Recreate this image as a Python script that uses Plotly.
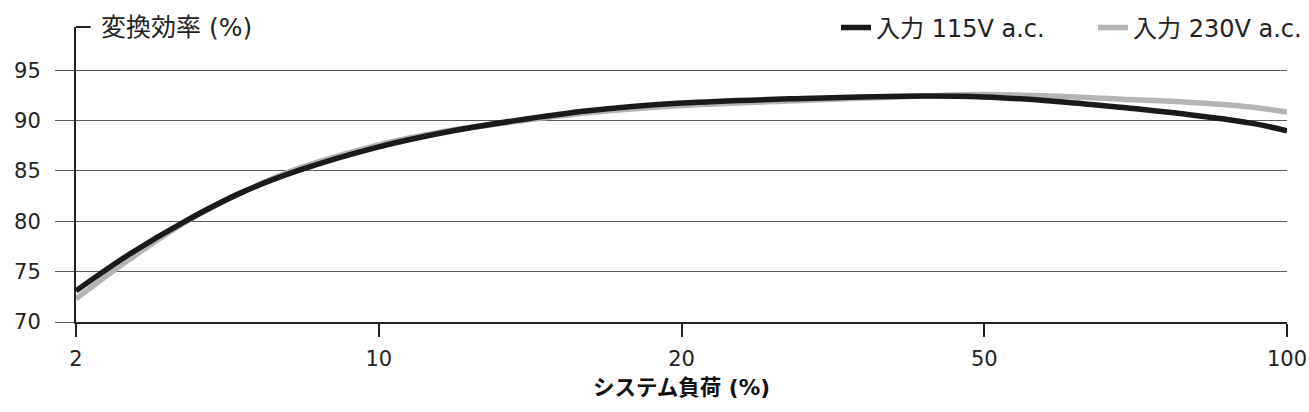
import plotly.graph_objects as go

# axis position of each point (0 = 2%, 1 = 10%, 2 = 20%, 3 = 50%, 4 = 100%)
pos_115 = [0, 0.18, 0.36, 0.55, 0.74, 1.0, 1.22, 1.45, 1.7, 2.0, 2.4, 2.8,
           3.0, 3.22, 3.44, 3.66, 3.88, 4.0]
eff_115 = [73.1, 76.8, 80.0, 82.9, 85.1, 87.4, 88.85, 90.0, 91.0, 91.75, 92.2, 92.45,
           92.35, 91.95, 91.35, 90.65, 89.75, 89.0]
pos_230 = [0, 0.18, 0.36, 0.55, 0.74, 1.0, 1.22, 1.45, 1.7, 2.0, 2.4, 2.8,
           3.0, 3.22, 3.44, 3.66, 3.88, 4.0]
eff_230 = [72.3, 76.3, 79.9, 82.9, 85.3, 87.6, 88.95, 89.9, 90.8, 91.5, 92.0, 92.45,
           92.6, 92.45, 92.15, 91.85, 91.35, 90.85]

x_tickpos = [0, 1, 2, 3, 4]
x_ticktext = ["2", "10", "20", "50", "100"]
y_ticks = [70, 75, 80, 85, 90, 95]

FONT = "DejaVu Sans, Noto Sans CJK JP, sans-serif"

fig = go.Figure()
# grey first so the black curve sits on top
fig.add_trace(go.Scatter(x=pos_230, y=eff_230, mode="lines", name="入力 230V a.c.",
                         line=dict(color="#b4b4b4", width=5.5, shape="spline", smoothing=1),
                         cliponaxis=False))
fig.add_trace(go.Scatter(x=pos_115, y=eff_115, mode="lines", name="入力 115V a.c.",
                         line=dict(color="#1a1a1a", width=5.5, shape="spline", smoothing=1),
                         cliponaxis=False))

fig.update_layout(
    width=1309, height=412,
    margin=dict(l=76, r=22, t=27, b=90, autoexpand=False),
    plot_bgcolor="white", paper_bgcolor="white",
    font=dict(family=FONT, color="#222222"),
    showlegend=True,
    legend=dict(orientation="h", x=(842 - 76 - 6) / 1211, xanchor="left",
                y=0.997, yanchor="middle", traceorder="reversed",
                font=dict(size=24, color="#222222"), entrywidth=212,
                itemwidth=30, bgcolor="rgba(0,0,0,0)"),
)
fig.update_xaxes(
    range=[0, 4], tickvals=x_tickpos, ticktext=x_ticktext, automargin=False,
    showgrid=False, zeroline=False,
    showline=True, linecolor="#222222", linewidth=2,
    ticks="outside", ticklen=13, tickwidth=2, tickcolor="#222222",
    tickfont=dict(size=21, color="#222222"), ticklabelstandoff=4,
    title=dict(text="<b>システム負荷 (%)</b>", font=dict(size=21.5, color="#111111"), standoff=10),
)
fig.update_yaxes(
    range=[70, 99.3], tickvals=y_ticks, automargin=False,
    showgrid=True, gridcolor="#5a5a5a", gridwidth=1.3, zeroline=False,
    showline=True, linecolor="#222222", linewidth=2,
    ticks="outside", ticklen=19, tickwidth=1.3, tickcolor="#5a5a5a",
    tickfont=dict(size=21, color="#222222"), ticklabelstandoff=10,
)

# small stub at the top of the y axis and the y-axis title
fig.add_shape(type="line", xref="paper", yref="paper", x0=0, x1=0.012, y0=1, y1=1,
              line=dict(color="#222222", width=2))
fig.add_annotation(text="変換効率 (%)", xref="paper", yref="paper", x=0.019, y=1,
                   xanchor="left", yanchor="middle", showarrow=False,
                   font=dict(size=25, color="#222222"))

# drop the default body margin so the figure fills the window exactly
fig.write_html("out.html", config={"displayModeBar": False},
               post_script="document.body.style.margin = '0';")
